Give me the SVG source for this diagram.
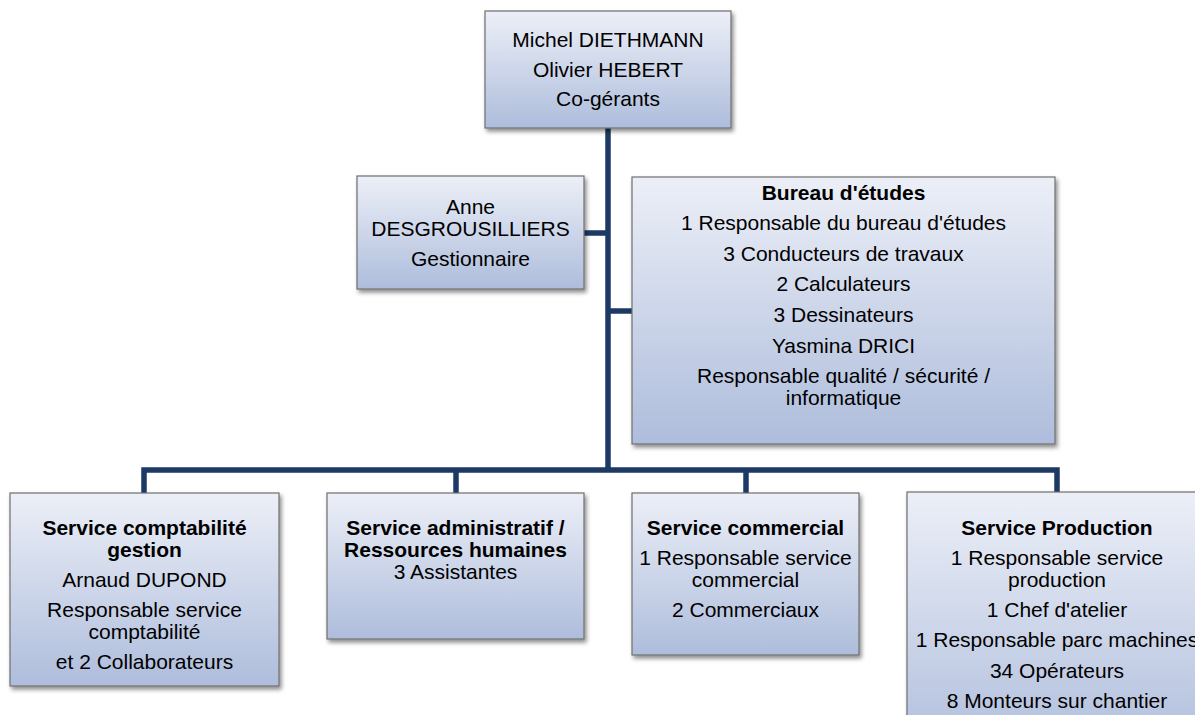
<svg xmlns="http://www.w3.org/2000/svg" width="1195" height="715" viewBox="0 0 1195 715">
<defs>
<linearGradient id="g" x1="0" y1="0" x2="0" y2="1">
<stop offset="0" stop-color="#ECEFF7"/>
<stop offset="1" stop-color="#AEBDDC"/>
</linearGradient>
<filter id="sh" x="-10%" y="-10%" width="125%" height="125%">
<feDropShadow dx="2" dy="3" stdDeviation="2" flood-color="#000" flood-opacity="0.45"/>
</filter>
</defs>
<style>
.box{fill:url(#g);stroke:#6E6E6E;stroke-width:1.2;filter:url(#sh)}
text{font-family:"Liberation Sans",Arial,sans-serif;font-size:21px;fill:#000;text-anchor:middle}
.b{font-weight:bold}
.con{fill:none;stroke:#1C3A64;stroke-width:5.5;stroke-linejoin:miter}
</style>
<rect width="1195" height="715" fill="#fff"/>
<g id="connectors">
<path class="con" d="M608 128V470"/>
<path class="con" d="M584 233H608"/>
<path class="con" d="M608 311H632"/>
<path class="con" d="M144 493V470H1057V492"/>
<path class="con" d="M456 470V493"/>
<path class="con" d="M746 470V493"/>
</g>
<g id="cogerants">
<rect class="box" x="485" y="11" width="246" height="117"/>
<text x="608" y="47">Michel DIETHMANN</text>
<text x="608" y="77">Olivier HEBERT</text>
<text x="608" y="106">Co-gérants</text>
</g>
<g id="gestionnaire">
<rect class="box" x="357" y="176" width="227" height="113"/>
<text x="470.5" y="214">Anne</text>
<text x="470.5" y="236">DESGROUSILLIERS</text>
<text x="470.5" y="266">Gestionnaire</text>
</g>
<g id="bureau">
<rect class="box" x="632" y="177" width="423" height="267"/>
<text class="b" x="843.5" y="200">Bureau d'études</text>
<text x="843.5" y="230">1 Responsable du bureau d'études</text>
<text x="843.5" y="261">3 Conducteurs de travaux</text>
<text x="843.5" y="291">2 Calculateurs</text>
<text x="843.5" y="322">3 Dessinateurs</text>
<text x="843.5" y="353">Yasmina DRICI</text>
<text x="843.5" y="383">Responsable qualité / sécurité /</text>
<text x="843.5" y="405">informatique</text>
</g>
<g id="comptabilite">
<rect class="box" x="10" y="493" width="269" height="193"/>
<text class="b" x="144.5" y="535">Service comptabilité</text>
<text class="b" x="144.5" y="557">gestion</text>
<text x="144.5" y="587">Arnaud DUPOND</text>
<text x="144.5" y="617">Responsable service</text>
<text x="144.5" y="639">comptabilité</text>
<text x="144.5" y="669">et 2 Collaborateurs</text>
</g>
<g id="administratif">
<rect class="box" x="327" y="493" width="257" height="146"/>
<text class="b" x="455.5" y="535">Service administratif /</text>
<text class="b" x="455.5" y="557">Ressources humaines</text>
<text x="455.5" y="579">3 Assistantes</text>
</g>
<g id="commercial">
<rect class="box" x="632" y="493" width="227" height="162"/>
<text class="b" x="745.5" y="535">Service commercial</text>
<text x="745.5" y="565">1 Responsable service</text>
<text x="745.5" y="587">commercial</text>
<text x="745.5" y="617">2 Commerciaux</text>
</g>
<g id="production">
<rect class="box" x="907" y="492" width="300" height="270"/>
<text class="b" x="1057" y="535">Service Production</text>
<text x="1057" y="565">1 Responsable service</text>
<text x="1057" y="587">production</text>
<text x="1057" y="617">1 Chef d'atelier</text>
<text x="1057" y="647">1 Responsable parc machines</text>
<text x="1057" y="678">34 Opérateurs</text>
<text x="1057" y="708">8 Monteurs sur chantier</text>
</g>
</svg>
